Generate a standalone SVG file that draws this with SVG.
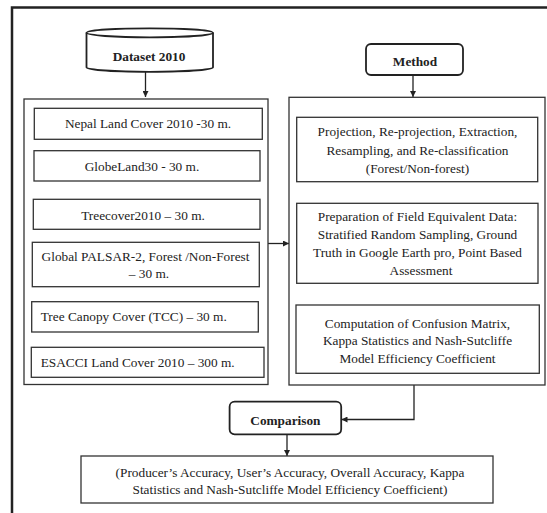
<svg xmlns="http://www.w3.org/2000/svg" width="547" height="513" viewBox="0 0 547 513">
<defs>
<style>
.t{font-family:"Liberation Serif","Times New Roman",serif;font-size:13.3px;fill:#222}
.tc{text-anchor:middle}
.b{font-weight:bold}
.box{fill:#fff;stroke:#333;stroke-width:1.3}
.hd{fill:#fff;stroke:#222;stroke-width:1.8}
.ln{fill:none;stroke:#222;stroke-width:1.3}
</style>
<marker id="ah" viewBox="0 0 10 10" refX="10" refY="5" markerWidth="6" markerHeight="6" markerUnits="userSpaceOnUse" orient="auto">
<path d="M0,0 L10,5 L0,10 z" fill="#222"/>
</marker>
</defs>
<rect width="547" height="513" fill="#fff"/>
<g id="frame">
<path d="M12,513 L12,7.5 L547,7.5" fill="none" stroke="#222" stroke-width="2.5"/>
</g>
<g id="connectors">
<line class="ln" x1="145.5" y1="72" x2="145.5" y2="97" marker-end="url(#ah)"/>
<line class="ln" x1="413" y1="75" x2="413" y2="97" marker-end="url(#ah)"/>
<line class="ln" x1="268" y1="243.5" x2="289" y2="243.5" marker-end="url(#ah)"/>
<line class="ln" x1="413" y1="181.7" x2="413" y2="203" marker-end="url(#ah)"/>
<line class="ln" x1="413" y1="283.3" x2="413" y2="305" marker-end="url(#ah)"/>
<polyline class="ln" points="414,385 414,419.5 341.5,419.5" marker-end="url(#ah)"/>
<line class="ln" x1="287" y1="434.3" x2="287" y2="456" marker-end="url(#ah)"/>
</g>
<g id="dataset">
<path class="hd" d="M86.5,32.8 L86.5,67.3 A63.25,4.5 0 0 0 213,67.3 L213,32.8"/>
<ellipse class="hd" cx="149.75" cy="32.8" rx="63.25" ry="4.5"/>
<text class="t tc b" x="149" y="61.3">Dataset 2010</text>
</g>
<g id="method">
<rect class="hd" x="366" y="44" width="97" height="31" rx="5"/>
<text class="t tc b" x="415" y="66.3">Method</text>
</g>
<g id="datasets-group">
<rect class="box" x="24" y="99" width="244" height="285.5"/>
</g>
<g id="nepal">
<rect class="box" x="34.3" y="108.3" width="228" height="31"/>
<text class="t tc" x="148" y="128">Nepal Land Cover 2010 -30 m.</text>
</g>
<g id="globeland">
<rect class="box" x="34" y="150.7" width="226" height="30.3"/>
<text class="t tc" x="142" y="170.5">GlobeLand30 - 30 m.</text>
</g>
<g id="treecover">
<rect class="box" x="33.3" y="199.3" width="226.7" height="30"/>
<text class="t tc" x="143" y="219.5">Treecover2010 – 30 m.</text>
</g>
<g id="palsar">
<rect class="box" x="32.3" y="242.3" width="227" height="44.4"/>
<text class="t tc" x="145.5" y="261">Global PALSAR-2, Forest /Non-Forest</text>
<text class="t tc" x="149" y="277.5">– 30 m.</text>
</g>
<g id="tcc">
<rect class="box" x="31.7" y="301.7" width="226.6" height="30.3"/>
<text class="t" x="40.7" y="321.3">Tree Canopy Cover (TCC) – 30 m.</text>
</g>
<g id="esacci">
<rect class="box" x="31.3" y="347.3" width="232.7" height="30"/>
<text class="t" x="40.7" y="367">ESACCI Land Cover 2010 – 300 m.</text>
</g>
<g id="method-group">
<rect class="box" x="289" y="97.3" width="256" height="287.7"/>
</g>
<g id="projection">
<rect class="box" x="296.7" y="117.3" width="241" height="64.4"/>
<text class="t tc" x="417.5" y="136.2">Projection, Re-projection, Extraction,</text>
<text class="t tc" x="417.5" y="154.5">Resampling, and Re-classification</text>
<text class="t tc" x="417.5" y="172.8">(Forest/Non-forest)</text>
</g>
<g id="preparation">
<rect class="box" x="296.7" y="203.3" width="241.3" height="80"/>
<text class="t tc" x="417.5" y="220.5">Preparation of Field Equivalent Data:</text>
<text class="t tc" x="417.5" y="238.5">Stratified Random Sampling, Ground</text>
<text class="t tc" x="417.5" y="256.8">Truth in Google Earth pro, Point Based</text>
<text class="t tc" x="421" y="274.5">Assessment</text>
</g>
<g id="computation">
<rect class="box" x="296" y="305" width="243.3" height="68.3"/>
<text class="t tc" x="417.5" y="327.8">Computation of Confusion Matrix,</text>
<text class="t tc" x="417.5" y="345.3">Kappa Statistics and Nash-Sutcliffe</text>
<text class="t tc" x="417.5" y="362.8">Model Efficiency Coefficient</text>
</g>
<g id="comparison">
<rect class="hd" x="229.6" y="401.7" width="111.6" height="32.6" rx="5"/>
<text class="t tc b" x="285.4" y="424.5">Comparison</text>
</g>
<g id="result">
<rect class="box" x="81" y="456" width="412" height="47"/>
<text class="t tc" x="290" y="477">(Producer’s Accuracy, User’s Accuracy, Overall Accuracy, Kappa</text>
<text class="t tc" x="290" y="494">Statistics and Nash-Sutcliffe Model Efficiency Coefficient)</text>
</g>
</svg>
